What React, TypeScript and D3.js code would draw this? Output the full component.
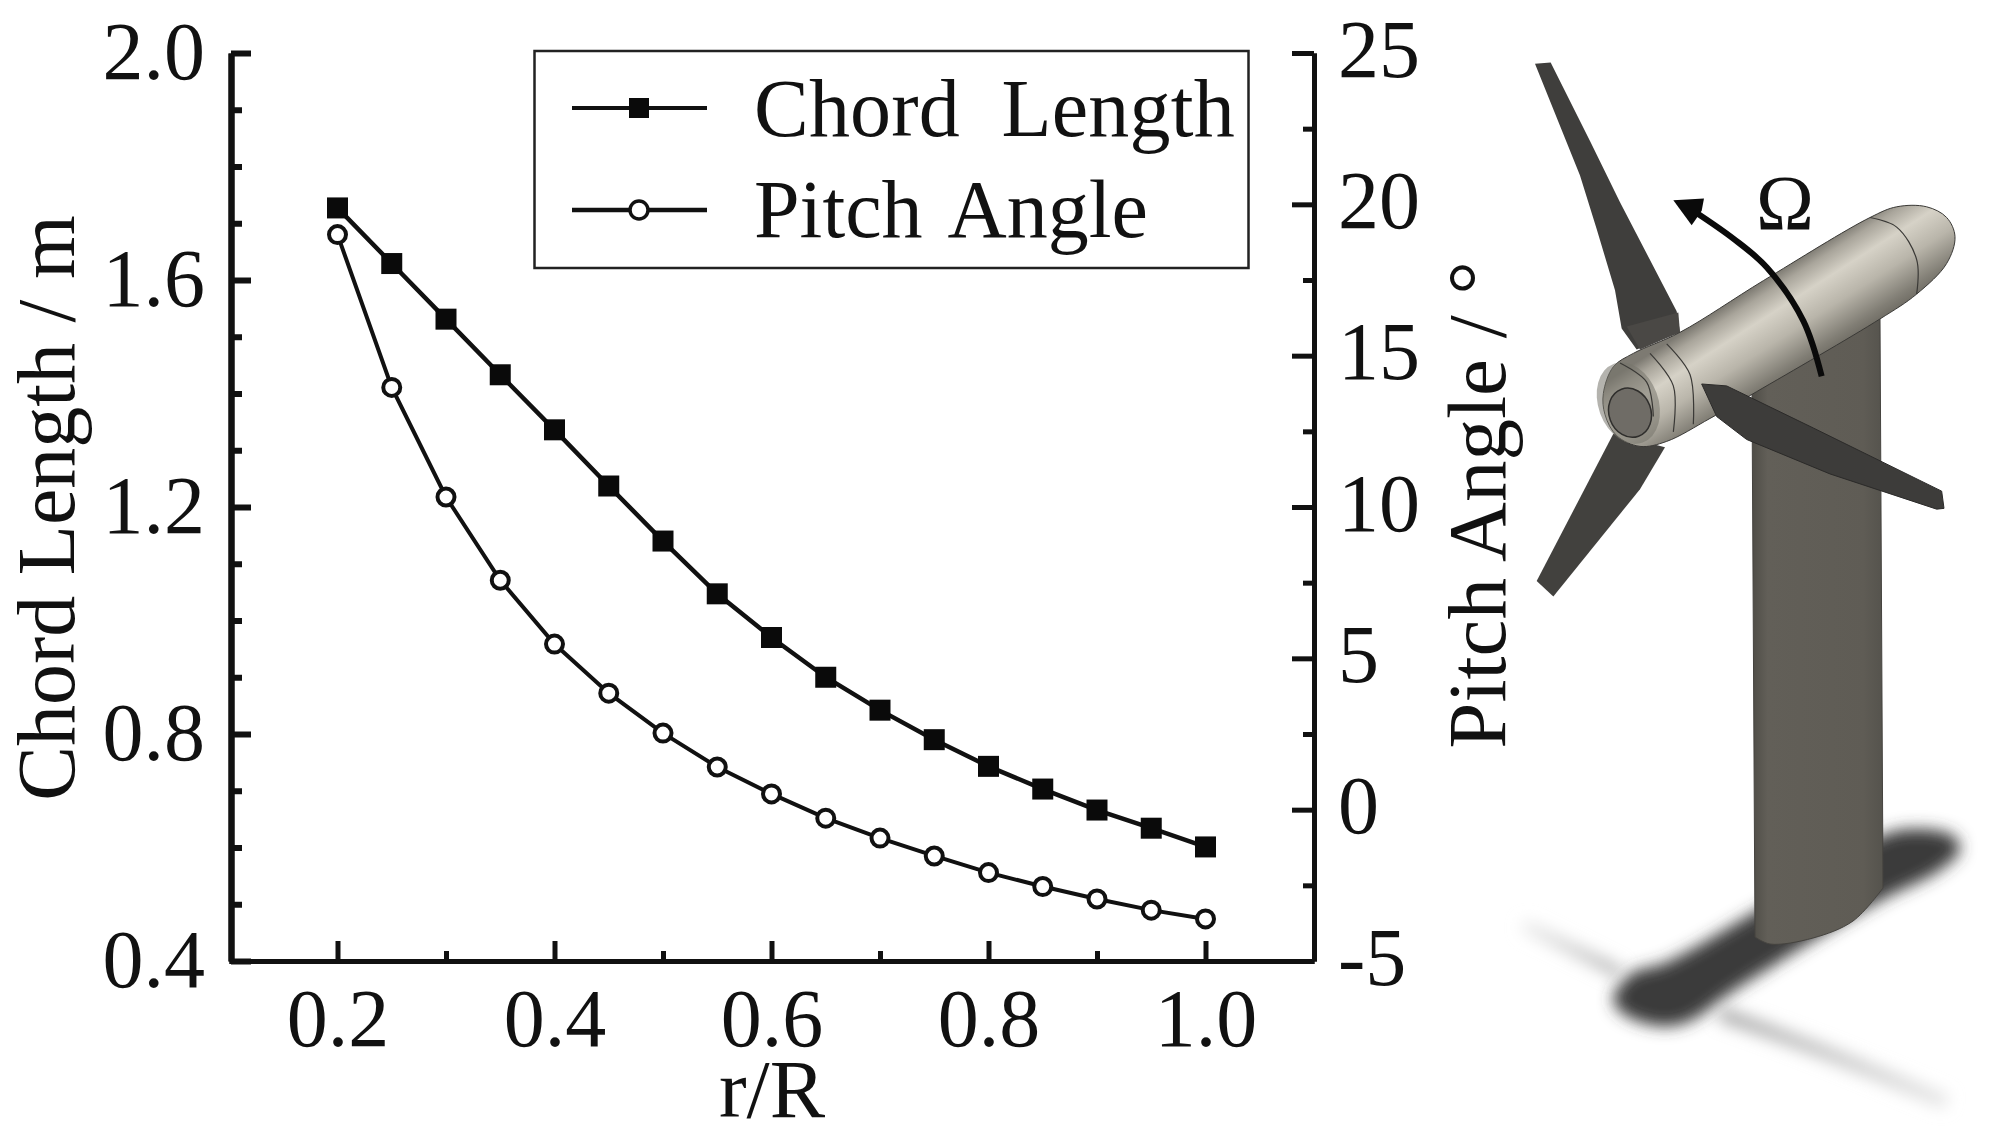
import React, { useEffect, useRef } from "react";
import * as d3 from "d3";

const rOverR = [0.2, 0.25, 0.3, 0.35, 0.4, 0.45, 0.5, 0.55, 0.6, 0.65, 0.7, 0.75, 0.8, 0.85, 0.9, 0.95, 1.0];
const chordLength = [1.727, 1.629, 1.531, 1.433, 1.336, 1.237, 1.14, 1.047, 0.97, 0.9, 0.842, 0.79, 0.743, 0.703, 0.666, 0.634, 0.601];
const pitchAngle = [19.0, 13.95, 10.33, 7.58, 5.47, 3.85, 2.53, 1.41, 0.52, -0.28, -0.94, -1.53, -2.08, -2.54, -2.95, -3.32, -3.61];

const xMajor = [0.2, 0.4, 0.6, 0.8, 1.0];
const xMinor = [0.3, 0.5, 0.7, 0.9];
const leftMajor = [0.4, 0.8, 1.2, 1.6, 2.0];
const leftMinor = [0.5, 0.6, 0.7, 0.9, 1.0, 1.1, 1.3, 1.4, 1.5, 1.7, 1.8, 1.9];
const rightMajor = [-5, 0, 5, 10, 15, 20, 25];
const rightMinor = [-2.5, 2.5, 7.5, 12.5, 17.5, 22.5];

const FONT = "'Liberation Serif', serif";
const INK = "#111";

// Turbine sketch outlines, traced in the pixel space of the picture crop
type P = [number, number];
const up = (pts: P[]): P[] => pts.map(([x, y]) => [1480 + x / 3, 30 + y / 2.613]);
const low = (pts: P[]): P[] => pts.map(([x, y]) => [1480 + x / 3, 600 + y / 2.925]);

const bladeTop = up([[165, 88], [212, 85], [330, 290], [420, 450], [590, 735], [600, 790], [470, 835], [425, 780], [405, 680], [350, 520], [300, 380]]);
const bladeRoot = up([[440, 775], [595, 738], [600, 790], [480, 835]]);
const bladeLow = up([[400, 1055], [555, 1090], [480, 1200], [220, 1480], [170, 1440]]);
const bladeRight = up([[665, 925], [740, 930], [1000, 1040], [1385, 1205], [1392, 1250], [1370, 1252], [1050, 1160], [800, 1070], [710, 1010]]);
const nacelle = up([[370, 950], [400, 880], [460, 845], [600, 790], [850, 655], [1170, 490], [1250, 462], [1340, 462], [1400, 490], [1425, 540], [1400, 610], [1310, 690], [1200, 755], [830, 945], [690, 1015], [560, 1075], [480, 1088], [410, 1060], [375, 1005]]);
const seams = [
  up([[1170, 490], [1250, 515], [1310, 600], [1310, 690]]),
  up([[510, 845], [580, 930], [580, 1050]]),
  up([[560, 820], [630, 900], [640, 1030]]),
  up([[420, 870], [500, 920], [520, 1010]]),
];
const arrowPath = up([[1025, 905], [970, 760], [860, 620], [760, 545], [650, 478]]);
const arrowHead = up([[580, 445], [672, 440], [665, 472], [635, 510]]);
const shadowBody = low([[400, 1170], [450, 1095], [560, 1060], [830, 910], [1205, 690], [1300, 670], [1420, 690], [1440, 730], [1380, 790], [1200, 880], [780, 1130], [620, 1235], [530, 1245], [430, 1210]]);
const shadowLeft = low([[130, 950], [420, 1090]]);
const shadowRight = low([[720, 1210], [1000, 1310], [1400, 1470]]);
const towerBottom: P[] = [[1883, 888], [1853, 921], [1813, 938], [1770, 944], [1755, 937]];
const towerTop: P[] = [[1752, 392], [1880, 318]];

export default function App() {
  const ref = useRef<SVGSVGElement | null>(null);

  useEffect(() => {
    const svg = d3.select(ref.current);
    svg.selectAll("*").remove();

    const x = d3.scaleLinear().domain([0.1, 1.1]).range([229, 1314]);
    const yL = d3.scaleLinear().domain([0.4, 2.0]).range([961, 53]);
    const yR = d3.scaleLinear().domain([-5, 25]).range([961, 53]);

    const drawAxis = (axis: any, tx: number, ty: number, width: number) => {
      const g = svg.append("g").attr("transform", `translate(${tx},${ty})`).call(axis);
      g.selectAll("path,line").attr("stroke", INK).attr("stroke-width", width);
      g.selectAll("text").attr("fill", INK).style("font", `82px ${FONT}`);
      return g;
    };

    // bottom axis
    drawAxis(d3.axisTop(x).tickValues(xMinor).tickSize(10).tickSizeOuter(0).tickFormat(() => ""), 0, 961, 5);
    const xG = drawAxis(d3.axisTop(x).tickValues(xMajor).tickSize(20).tickSizeOuter(0).tickFormat(d3.format(".1f") as any), 0, 961, 5);
    xG.selectAll("text").attr("y", 85).attr("dy", 0).attr("text-anchor", "middle");

    // left axis
    drawAxis(d3.axisRight(yL).tickValues(leftMinor).tickSize(11).tickSizeOuter(0).tickFormat(() => ""), 231, 0, 6);
    const lG = drawAxis(d3.axisRight(yL).tickValues(leftMajor).tickSize(20).tickSizeOuter(0).tickFormat(d3.format(".1f") as any), 231, 0, 6);
    lG.selectAll("text").attr("x", -26).attr("dy", 25).attr("text-anchor", "end");

    // right axis
    drawAxis(d3.axisLeft(yR).tickValues(rightMinor).tickSize(11).tickSizeOuter(0).tickFormat(() => ""), 1314, 0, 5);
    const rG = drawAxis(d3.axisLeft(yR).tickValues(rightMajor).tickSize(22).tickSizeOuter(0).tickFormat((d: any) => String(d)), 1314, 0, 5);
    rG.selectAll("text").attr("x", 24).attr("dy", 23).attr("text-anchor", "start");

    const label = (txt: string, tx: number, ty: number, rot = 0, size = 82) =>
      svg.append("text")
        .attr("transform", `translate(${tx},${ty}) rotate(${rot})`)
        .attr("text-anchor", "middle")
        .attr("fill", INK)
        .style("font", `${size}px ${FONT}`)
        .style("white-space", "pre")
        .text(txt);

    label("r/R", 772, 1117, 0, 83);
    label("Chord Length / m", 74, 508, -90);
    label("Pitch Angle / °", 1505, 505, -90, 83);

    // series
    const line = (vals: number[], y: d3.ScaleLinear<number, number>) =>
      d3.line<number>().x((_, i) => x(rOverR[i])).y((d) => y(d))(vals);

    svg.append("path").attr("d", line(chordLength, yL)).attr("fill", "none").attr("stroke", INK).attr("stroke-width", 4.5);
    svg.append("path").attr("d", line(pitchAngle, yR)).attr("fill", "none").attr("stroke", INK).attr("stroke-width", 4);

    const square = d3.symbol().type(d3.symbolSquare).size(21 * 21);
    svg.selectAll(".sq").data(chordLength).enter().append("path")
      .attr("d", square)
      .attr("transform", (d, i) => `translate(${x(rOverR[i])},${yL(d)})`)
      .attr("fill", "#0a0a0a");
    svg.selectAll(".ci").data(pitchAngle).enter().append("circle")
      .attr("cx", (_, i) => x(rOverR[i]))
      .attr("cy", (d) => yR(d))
      .attr("r", 8.5)
      .attr("fill", "#fff")
      .attr("stroke", INK)
      .attr("stroke-width", 4);

    // legend
    svg.append("rect").attr("x", 534.5).attr("y", 51).attr("width", 714).attr("height", 217)
      .attr("fill", "#fff").attr("stroke", "#222").attr("stroke-width", 2.5);
    svg.append("line").attr("x1", 572).attr("x2", 707).attr("y1", 108).attr("y2", 108).attr("stroke", INK).attr("stroke-width", 4);
    svg.append("line").attr("x1", 572).attr("x2", 707).attr("y1", 210).attr("y2", 210).attr("stroke", INK).attr("stroke-width", 4.5);
    svg.append("path").attr("d", d3.symbol().type(d3.symbolSquare).size(20 * 20)()).attr("transform", "translate(639,108)").attr("fill", "#0a0a0a");
    svg.append("circle").attr("cx", 639).attr("cy", 210).attr("r", 9).attr("fill", "#fff").attr("stroke", INK).attr("stroke-width", 3.5);
    label("Chord  Length", 754, 136).attr("text-anchor", "start").style("letter-spacing", "0.2px");
    label("Pitch Angle", 754, 237).attr("text-anchor", "start").style("word-spacing", "9px");

    // turbine sketch
    const defs = svg.append("defs");
    defs.append("filter").attr("id", "soft").attr("filterUnits", "userSpaceOnUse").attr("x", 1480).attr("y", 780).attr("width", 511).attr("height", 356)
      .append("feGaussianBlur").attr("stdDeviation", 8);
    const fade = (id: string, from: P, to: P, c0: string, c1: string) => {
      const g = defs.append("linearGradient").attr("id", id).attr("gradientUnits", "userSpaceOnUse")
        .attr("x1", from[0]).attr("y1", from[1]).attr("x2", to[0]).attr("y2", to[1]);
      g.append("stop").attr("offset", 0).attr("stop-color", c0);
      g.append("stop").attr("offset", 1).attr("stop-color", c1);
    };
    fade("fadeL", shadowLeft[0], shadowLeft[1], "#ededed", "#b4b4b4");
    fade("fadeR", shadowRight[0], shadowRight[2], "#a8a8a8", "#e6e6e6");
    const nac = defs.append("linearGradient").attr("id", "nac").attr("gradientUnits", "userSpaceOnUse")
      .attr("x1", 1763).attr("y1", 281).attr("x2", 1817).attr("y2", 365);
    [[0, "#7d7a72"], [0.12, "#a9a59b"], [0.32, "#d6d2c7"], [0.58, "#b9b5aa"], [0.86, "#817e75"], [1, "#6a675f"]].forEach(([o, c]) =>
      nac.append("stop").attr("offset", o as number).attr("stop-color", c as string));
    const tow = defs.append("linearGradient").attr("id", "tow");
    [[0, "#4f4d47"], [0.12, "#625f58"], [0.85, "#5f5c55"], [1, "#55534d"]].forEach(([o, c]) =>
      tow.append("stop").attr("offset", o as number).attr("stop-color", c as string));

    const poly = d3.line().curve(d3.curveLinearClosed);
    const smooth = d3.line().curve(d3.curveCatmullRom.alpha(0.5));
    const smoothClosed = d3.line().curve(d3.curveCatmullRomClosed.alpha(0.5));

    svg.append("path").attr("d", smoothClosed(shadowBody)).attr("fill", "#3a3a3a").attr("filter", "url(#soft)");
    svg.append("path").attr("d", d3.line()(shadowLeft)).attr("fill", "none").attr("stroke", "url(#fadeL)").attr("stroke-width", 12).attr("filter", "url(#soft)");
    svg.append("path").attr("d", smooth(shadowRight)).attr("fill", "none").attr("stroke", "url(#fadeR)").attr("stroke-width", 14).attr("filter", "url(#soft)");

    const towerPath = `${smooth(towerBottom)}L${towerTop[0][0]},${towerTop[0][1]}L${towerTop[1][0]},${towerTop[1][1]}Z`;
    svg.append("path").attr("d", towerPath).attr("fill", "url(#tow)").attr("stroke", "#45433f").attr("stroke-width", 1);
    svg.append("path").attr("d", poly(bladeTop)).attr("fill", "#3f3e3c");
    svg.append("path").attr("d", poly(bladeRoot)).attr("fill", "#4a4845");
    svg.append("path").attr("d", poly(bladeLow)).attr("fill", "#42413e");
    svg.append("path").attr("d", smoothClosed(nacelle)).attr("fill", "url(#nac)").attr("stroke", "#3a3936").attr("stroke-width", 1);
    const [rx0, ry0] = up([[445, 975]])[0];
    svg.append("ellipse").attr("transform", `translate(${rx0},${ry0}) rotate(-20)`)
      .attr("rx", 30).attr("ry", 42).attr("fill", "#77746c").attr("opacity", 0.55);
    seams.forEach((s) => svg.append("path").attr("d", smooth(s)).attr("fill", "none").attr("stroke", "#3a3936").attr("stroke-width", 1.2));

    const [hx, hy] = up([[450, 1000]])[0];
    svg.append("ellipse").attr("transform", `translate(${hx},${hy}) rotate(-20)`)
      .attr("rx", 21).attr("ry", 25).attr("fill", "#6f6c66").attr("stroke", "#2f2e2c").attr("stroke-width", 1.5);
    svg.append("path").attr("d", poly(bladeRight)).attr("fill", "#3d3c3a").attr("stroke", "#2b2a29").attr("stroke-width", 1);

    svg.append("path").attr("d", smooth(arrowPath)).attr("fill", "none").attr("stroke", "#0a0a0a").attr("stroke-width", 6);
    svg.append("path").attr("d", poly(arrowHead)).attr("fill", "#0a0a0a");
    label("Ω", 1785, 229, 0, 78);
  }, []);

  return <svg ref={ref} width={1991} height={1136} style={{ position: "absolute", left: 0, top: 0, background: "#fff" }} />;
}
